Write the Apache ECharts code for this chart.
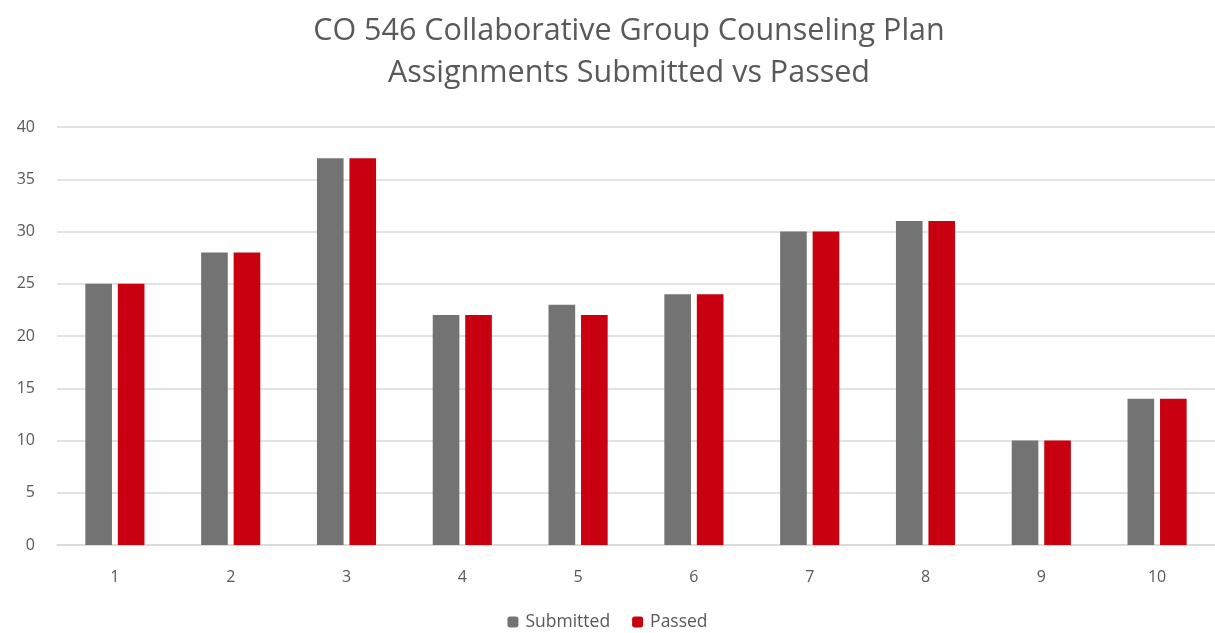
<!DOCTYPE html>
<html>
<head>
<meta charset="utf-8">
<script src="https://cdn.jsdelivr.net/npm/echarts@6/dist/echarts.min.js"></script>
<style>
  html, body { margin: 0; padding: 0; background: #fff; }
  #main { width: 1215px; height: 633px; }
</style>
</head>
<body>
<div id="main"></div>
<script>
  var categories = ['1', '2', '3', '4', '5', '6', '7', '8', '9', '10']
  var submitted = [25, 28, 37, 22, 23, 24, 30, 31, 10, 14]
  var passed = [25, 28, 37, 22, 22, 24, 30, 31, 10, 14]
  var yTicks = { min: 0, max: 40, interval: 5 }

  var myChart = echarts.init(document.getElementById('main'))
  var labelColor = '#595959'
  var option = {
    animation: false,
    textStyle: { fontFamily: 'Open Sans' },
    title: {
      text: 'CO 546 Collaborative Group Counseling Plan\nAssignments Submitted vs Passed',
      left: 624,
      textAlign: 'center',
      top: 5,
      textStyle: {
        color: labelColor,
        fontSize: 30.5,
        fontWeight: 'normal',
        lineHeight: 42,
        fontFamily: 'Open Sans'
      }
    },
    legend: {
      bottom: -3,
      left: 'center',
      itemWidth: 11,
      itemHeight: 11,
      itemGap: 22,
      textStyle: { color: labelColor, fontSize: 17.5, padding: [0, 0, 0, 2] },
      data: ['Submitted', 'Passed']
    },
    grid: { left: 57, width: 1168, top: 127, bottom: 88 },
    xAxis: {
      type: 'category',
      data: categories,
      axisTick: { show: false },
      axisLine: { lineStyle: { color: '#d9d9d9', width: 1.5 } },
      axisLabel: { color: labelColor, fontSize: 16, margin: 24 }
    },
    yAxis: {
      type: 'value',
      min: yTicks.min,
      max: yTicks.max,
      interval: yTicks.interval,
      axisLine: { show: false },
      axisTick: { show: false },
      axisLabel: { color: labelColor, fontSize: 16, margin: 22, align: 'right' },
      splitLine: { lineStyle: { color: '#d9d9d9', width: 1.5 } }
    },
    series: [
      {
        name: 'Submitted',
        type: 'bar',
        data: submitted,
        barWidth: '23%',
        barGap: '22%',
        itemStyle: { color: '#737373' }
      },
      {
        name: 'Passed',
        type: 'bar',
        data: passed,
        barWidth: '23%',
        itemStyle: { color: '#c8000f' }
      }
    ]
  }
  myChart.setOption(option)
</script>
</body>
</html>
